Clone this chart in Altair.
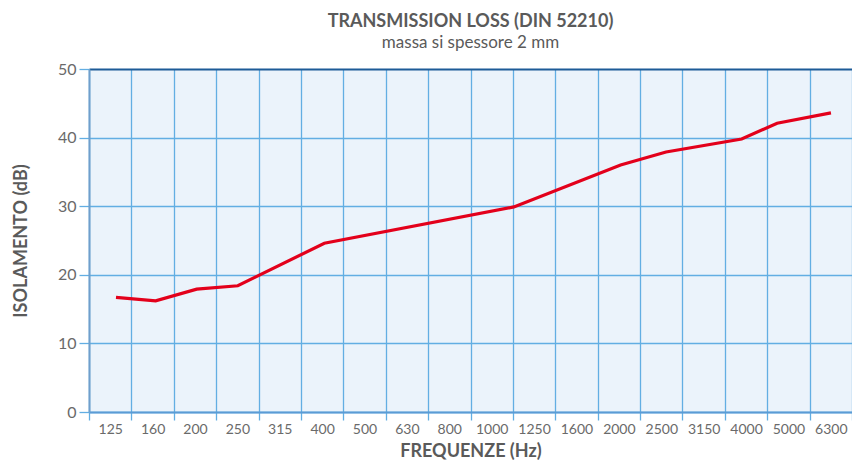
import altair as alt
import pandas as pd

# Third-octave band labels on the x axis
bands = ["125", "160", "200", "250", "315", "400", "500", "630", "800", "1000",
         "1250", "1600", "2000", "2500", "3150", "4000", "5000", "6300"]

# Line vertices (frequency in Hz, insulation in dB)
freq_hz = [129, 160, 200, 250, 400, 1120, 2000, 2560, 3860, 4680, 6270]
loss_db = [16.7, 16.2, 17.9, 18.4, 24.6, 29.9, 36.0, 37.9, 39.8, 42.1, 43.6]

y_ticks = [0, 10, 20, 30, 40, 50]

FONT = "Lato"
TEXT = "#5a5a5a"
LABEL = "#6a6a6a"
GRID = "#62aee3"

band_df = pd.DataFrame({"band": bands})
line_df = pd.DataFrame({"f": freq_hz, "db": loss_db})

# log-frequency domain spanning the outer edges of the first and last third-octave bands
f_lo = 125 * 10 ** (-0.05)
f_hi = 125 * 10 ** (1.75)

bands_layer = alt.Chart(band_df).mark_bar(opacity=0).encode(
    x=alt.X("band:O", sort=bands,
            scale=alt.Scale(type="band", paddingInner=0, paddingOuter=0),
            axis=alt.Axis(title="FREQUENZE (Hz)", labelAngle=0, tickBand="extent",
                          grid=True, gridColor=GRID, gridWidth=1.3,
                          domainColor="#5b9bd5", domainWidth=2,
                          tickColor=GRID, tickWidth=1.3, tickSize=8,
                          labelFont=FONT, labelFontSize=14, labelColor=LABEL,
                          labelPadding=2,
                          titleFont=FONT, titleFontSize=18, titleFontWeight="bold",
                          titleColor=TEXT, titlePadding=6))
)

line_layer = alt.Chart(line_df).mark_line(color="#e3001b", strokeWidth=3.2).encode(
    x=alt.X("f:Q", scale=alt.Scale(type="log", domain=[f_lo, f_hi], nice=False),
            axis=None),
    y=alt.Y("db:Q", scale=alt.Scale(domain=[0, 50], nice=False),
            axis=alt.Axis(title="ISOLAMENTO (dB)", values=y_ticks, grid=True,
                          gridColor={"condition": {"test": "datum.value === 50",
                                                   "value": "#1d5b97"},
                                     "value": GRID},
                          gridWidth={"condition": {"test": "datum.value === 50",
                                                   "value": 2},
                                     "value": 1.3},
                          domainColor="#6f9fcc", domainWidth=2,
                          tickColor=GRID, tickWidth=1.3, tickSize=10,
                          labelFont=FONT, labelFontSize=16, labelColor=LABEL,
                          labelPadding=3,
                          titleFont=FONT, titleFontSize=18, titleFontWeight="bold",
                          titleColor=TEXT, titlePadding=27)),
    order=alt.Order("f:Q")
)

chart = alt.layer(bands_layer, line_layer).resolve_scale(x="independent").properties(
    width=763, height=343,
    title=alt.TitleParams("TRANSMISSION LOSS (DIN 52210)",
                          subtitle="massa si spessore 2 mm",
                          font=FONT, fontSize=18, fontWeight="bold", color=TEXT,
                          subtitleFont=FONT, subtitleFontSize=17, subtitleColor=TEXT,
                          subtitlePadding=4, anchor="middle", offset=10),
    autosize=alt.AutoSizeParams(type="none"),
    padding={"left": 81, "top": 61, "right": 0, "bottom": 48},
).configure_view(fill="#ebf3fb", stroke=None)

chart.save("out.html", embed_options={"renderer": "svg", "actions": False})
